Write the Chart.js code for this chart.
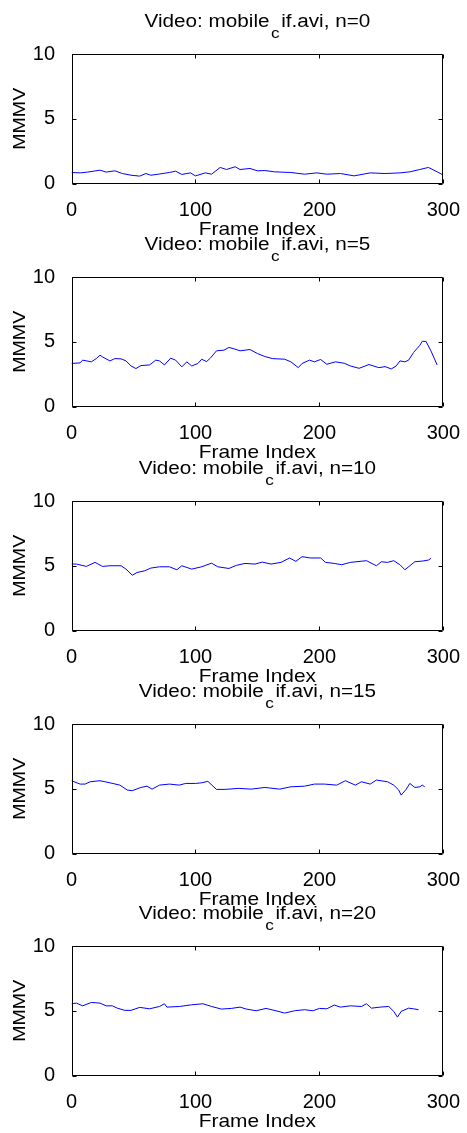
<!DOCTYPE html>
<html>
<head>
<meta charset="utf-8">
<script src="https://cdn.jsdelivr.net/npm/chart.js@4.4.0/dist/chart.umd.min.js"></script>
<style>
  html, body { margin: 0; padding: 0; background: #ffffff; }
  #figure { position: relative; width: 467px; height: 1133px; overflow: hidden; background: #ffffff; }
  #figure canvas { position: absolute; left: 0; }
</style>
</head>
<body>
<div id="figure"></div>
<script>
// ---- data -------------------------------------------------------------
const videoName = 'mobile_cif.avi';
const nValues = [0, 5, 10, 15, 20];
const xTickValues = [0, 100, 200, 300];
const yTickValues = [0, 5, 10];
const xLabel = 'Frame Index';
const yLabel = 'MMMV';

const framesN0 = [0,7,13,23,28,35,41,48,55,60,64,70,79,84,89,96,100,108,113,120,125,132,136,144,150,156,164,177,188,198,206,217,228,241,253,265,273,281,288,294,299];
const mmmvN0   = [0.85,0.82,0.88,1.03,0.88,0.98,0.77,0.64,0.57,0.77,0.64,0.72,0.85,0.95,0.7,0.82,0.59,0.82,0.72,1.24,1.08,1.29,1.08,1.16,0.98,1.0,0.9,0.85,0.72,0.82,0.72,0.77,0.59,0.82,0.77,0.82,0.9,1.08,1.24,0.95,0.7];

const framesN5 = [0,7,9,16,20,23,25,31,35,40,44,48,52,56,63,68,71,75,80,84,89,93,97,102,105,109,112,117,123,127,131,136,144,150,156,162,172,177,183,186,192,196,201,206,213,220,225,232,240,248,253,258,262,265,269,272,276,281,283,286,290,293,295];
const mmmvN5   = [3.32,3.37,3.58,3.45,3.7,3.96,3.83,3.52,3.7,3.68,3.52,3.13,2.93,3.16,3.21,3.58,3.52,3.21,3.73,3.58,3.06,3.45,3.13,3.32,3.65,3.47,3.73,4.3,4.35,4.56,4.46,4.3,4.4,4.09,3.86,3.7,3.65,3.45,3.0,3.32,3.58,3.45,3.63,3.26,3.45,3.34,3.13,2.95,3.24,3.0,3.08,2.9,3.13,3.52,3.45,3.58,4.17,4.72,5.03,5.03,4.3,3.65,3.21];

const framesN10 = [0,4,12,19,25,31,40,44,49,53,59,64,71,79,85,89,97,105,113,118,127,133,140,148,154,161,169,176,181,186,193,201,205,212,218,225,238,246,250,255,260,265,269,273,277,283,288,290];
const mmmvN10   = [5.13,5.13,4.95,5.26,4.95,5.0,5.0,4.74,4.27,4.48,4.61,4.82,4.92,4.92,4.69,5.0,4.74,4.92,5.2,4.92,4.79,5.03,5.18,5.13,5.28,5.13,5.26,5.6,5.34,5.7,5.6,5.6,5.26,5.18,5.08,5.26,5.39,5.0,5.31,5.26,5.39,5.08,4.69,5.0,5.31,5.36,5.44,5.57];

const framesN15 = [0,7,11,15,23,31,39,45,49,56,61,65,71,79,87,92,100,105,110,117,124,135,145,156,168,177,188,196,204,214,221,229,234,241,246,255,260,264,266,270,273,277,281,283,285];
const mmmvN15   = [5.62,5.36,5.36,5.54,5.62,5.46,5.28,4.9,4.85,5.1,5.2,4.97,5.28,5.36,5.28,5.41,5.41,5.46,5.57,4.95,4.95,5.03,4.97,5.1,4.97,5.15,5.2,5.36,5.36,5.28,5.62,5.28,5.54,5.36,5.67,5.54,5.28,4.9,4.51,4.95,5.41,5.1,5.15,5.28,5.15];

const framesN20 = [0,4,9,16,23,28,33,37,43,48,55,63,71,75,77,87,97,106,113,121,129,136,141,149,157,165,172,180,188,195,200,206,212,217,225,234,238,242,249,256,260,263,266,272,276,280];
const mmmvN20   = [5.54,5.59,5.38,5.64,5.59,5.38,5.38,5.2,5.03,5.03,5.26,5.15,5.33,5.54,5.28,5.33,5.46,5.54,5.33,5.13,5.18,5.28,5.13,5.0,5.18,5.0,4.82,5.0,5.08,5.0,5.18,5.15,5.44,5.28,5.38,5.33,5.54,5.2,5.28,5.33,4.95,4.51,4.95,5.2,5.15,5.08];

const seriesFrames = [framesN0, framesN5, framesN10, framesN15, framesN20];
const seriesValues = [mmmvN0, mmmvN5, mmmvN10, mmmvN15, mmmvN20];

// ---- layout -----------------------------------------------------------
const FONT = '"Liberation Sans", Arial, Helvetica, sans-serif';
const FIG_W = 467;
const CANVAS_H = 250;
const AXES_TOPS = [54, 277, 501, 724, 946];   // top edge of each axes box
const PAD_TOP = 54;                            // space above the axes box inside each canvas
const AXES_H = 129.5;
const AXES_LEFT = 71.5;
const AXES_RIGHT_GAP = 20;
const TICK_LEN = 4;

function drawStretched(ctx, text, x, y, size, sx, align) {
  ctx.save();
  ctx.font = size + 'px ' + FONT;
  ctx.textBaseline = 'alphabetic';
  ctx.textAlign = 'left';
  const w = ctx.measureText(text).width * sx;
  const left = align === 'center' ? x - w / 2 : x;
  ctx.translate(left, y);
  ctx.scale(sx, 1);
  ctx.fillText(text, 0, 0);
  ctx.restore();
  return w;
}

function textWidth(ctx, text, size, sx) {
  ctx.save();
  ctx.font = size + 'px ' + FONT;
  const w = ctx.measureText(text).width * sx;
  ctx.restore();
  return w;
}

// box, inward tick marks on all four sides, title and axis labels
const matlabAxes = {
  id: 'matlabAxes',
  afterDraw(chart, args, opts) {
    const { ctx, chartArea: a, scales: { x, y } } = chart;
    const L = Math.round(a.left) + 0.5, R = Math.round(a.right) - 0.5;
    const T = Math.round(a.top) + 0.5, B = Math.round(a.bottom) - 0.5;
    ctx.save();
    ctx.strokeStyle = '#000000';
    ctx.lineWidth = 1;
    ctx.beginPath();
    ctx.rect(L, T, R - L, B - T);
    for (const v of xTickValues) {
      const px = Math.round(x.getPixelForValue(v)) + 0.5;
      ctx.moveTo(px, B); ctx.lineTo(px, B - TICK_LEN);
      ctx.moveTo(px, T); ctx.lineTo(px, T + TICK_LEN);
    }
    for (const v of yTickValues) {
      const py = Math.round(y.getPixelForValue(v)) + 0.5;
      ctx.moveTo(L, py); ctx.lineTo(L + TICK_LEN, py);
      ctx.moveTo(R, py); ctx.lineTo(R - TICK_LEN, py);
    }
    ctx.stroke();

    ctx.fillStyle = '#000000';
    // title: "Video: mobile" + subscript c + "if.avi, n=.."
    const parts = opts.titleParts;
    const mainSize = 18, subSize = 15, sx = 1.15;
    const w0 = textWidth(ctx, parts[0], mainSize, sx);
    const w1 = textWidth(ctx, parts[1], subSize, sx);
    const w2 = textWidth(ctx, parts[2], mainSize, sx);
    const gap = 1.5;
    const total = w0 + gap + w1 + gap + w2;
    const cx = (a.left + a.right) / 2;
    const base = a.top - 27;
    let px = cx - total / 2;
    drawStretched(ctx, parts[0], px, base, mainSize, sx, 'left');
    px += w0 + gap;
    drawStretched(ctx, parts[1], px, base + 11, subSize, sx, 'left');
    px += w1 + gap;
    drawStretched(ctx, parts[2], px, base, mainSize, sx, 'left');

    // x label
    drawStretched(ctx, xLabel, cx, a.bottom + 51.5, 19, 1.1, 'center');

    // y label (rotated)
    ctx.save();
    ctx.translate(25, (a.top + a.bottom) / 2);
    ctx.rotate(-Math.PI / 2);
    drawStretched(ctx, yLabel, 0, 0, 17, 1.15, 'center');
    ctx.restore();
    ctx.restore();
  }
};

const fig = document.getElementById('figure');

nValues.forEach((n, i) => {
  const canvas = document.createElement('canvas');
  canvas.width = FIG_W;
  canvas.height = CANVAS_H;
  canvas.style.width = FIG_W + 'px';
  canvas.style.height = CANVAS_H + 'px';
  canvas.style.top = (AXES_TOPS[i] - PAD_TOP) + 'px';
  fig.appendChild(canvas);

  const frames = seriesFrames[i];
  const values = seriesValues[i];
  const nameParts = videoName.split('_');   // underscore renders as a subscript

  new Chart(canvas, {
    type: 'line',
    data: {
      datasets: [{
        data: frames.map((f, k) => ({ x: f, y: values[k] })),
        borderColor: '#0000ff',
        borderWidth: 1,
        pointRadius: 0,
        tension: 0,
        fill: false
      }]
    },
    options: {
      responsive: false,
      animation: false,
      devicePixelRatio: 1,
      layout: { padding: { top: PAD_TOP, left: 0, right: AXES_RIGHT_GAP, bottom: 0 } },
      plugins: {
        legend: { display: false },
        tooltip: { enabled: false },
        title: { display: false },
        matlabAxes: {
          titleParts: ['Video: ' + nameParts[0], nameParts[1].charAt(0), nameParts[1].slice(1) + ', n=' + n]
        }
      },
      scales: {
        x: {
          type: 'linear',
          min: 0, max: 300,
          afterBuildTicks: s => { s.ticks = xTickValues.map(v => ({ value: v })); },
          afterFit: s => { s.height = CANVAS_H - (PAD_TOP + AXES_H); },
          ticks: { color: '#000000', font: { family: FONT, size: 20 }, padding: 7, maxRotation: 0, autoSkip: false },
          grid: { display: false },
          border: { display: false }
        },
        y: {
          type: 'linear',
          min: 0, max: 10,
          afterBuildTicks: s => { s.ticks = yTickValues.map(v => ({ value: v })); },
          afterFit: s => { s.width = AXES_LEFT; },
          ticks: { color: '#000000', font: { family: FONT, size: 20 }, padding: 8.5 },
          grid: { display: false },
          border: { display: false }
        }
      }
    },
    plugins: [matlabAxes]
  });
});
</script>
</body>
</html>
